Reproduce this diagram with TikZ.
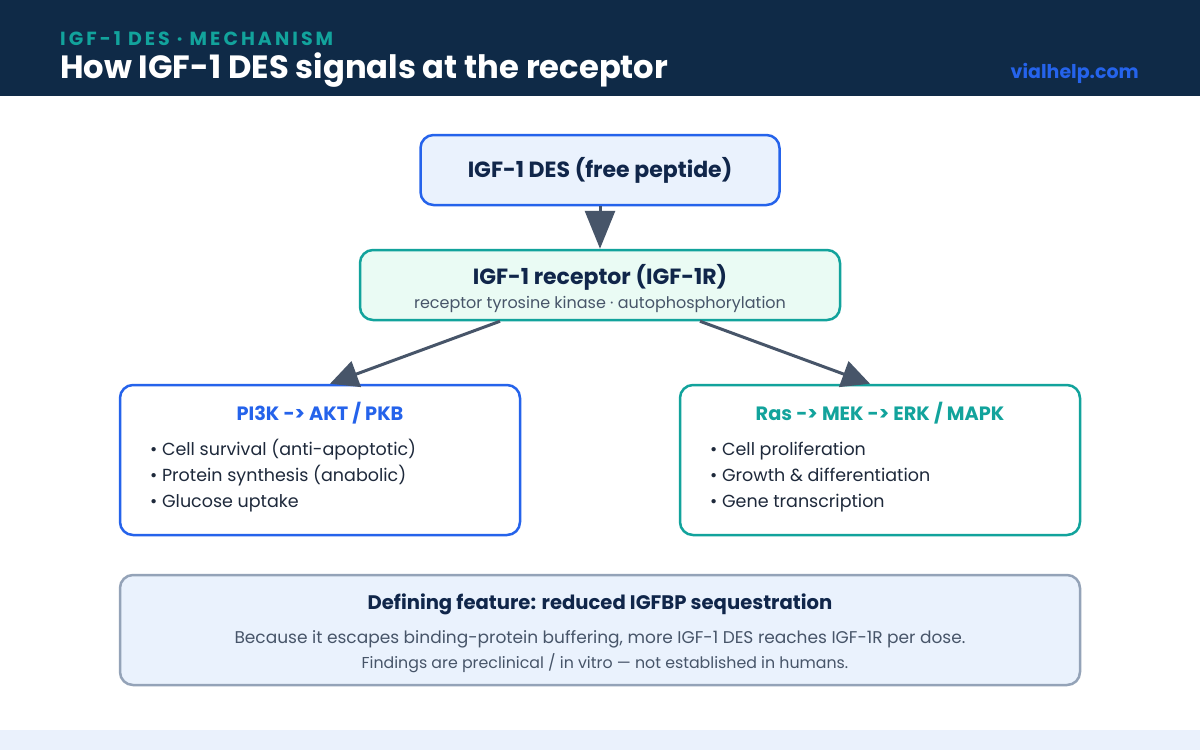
\documentclass[tikz,border=0pt]{standalone}
\usepackage{fontspec}
\setmainfont{Poppins}
\newfontfamily\kickerfont{Poppins}[LetterSpace=16]
\usetikzlibrary{arrows.meta, positioning}

\definecolor{headnavy}{HTML}{0F2A47}
\definecolor{inknavy}{HTML}{10264A}
\definecolor{inkbody}{HTML}{1E293B}
\definecolor{inkgray}{HTML}{475569}
\definecolor{brandblue}{HTML}{2563EB}
\definecolor{brandteal}{HTML}{12A39C}
\definecolor{paleblue}{HTML}{EAF2FD}
\definecolor{palemint}{HTML}{EAFBF4}
\definecolor{edgegray}{HTML}{94A3B8}
\definecolor{stripblue}{HTML}{EAF1FC}

\tikzset{
    panel/.style={line width=2.5pt, rounded corners=13pt, inner sep=0pt},
    flow/.style={draw=inkgray, line width=3pt},
    bigtip/.style={-{Triangle[length=38pt, width=30pt]}},
    sidetip/.style={-{Triangle[length=28pt, width=27pt]}},
    boxhead/.style={font=\fontsize{22}{26}\selectfont\bfseries, text=inknavy},
    item/.style={anchor=base west, inner sep=0pt, font=\fontsize{17.5}{22}\selectfont, text=inkbody},
}

\begin{document}
\begin{tikzpicture}[x=1pt, y=-1pt]
\fill[white] (0,0) rectangle (1200,750);

% banner
\fill[headnavy] (0,0) rectangle (1200,96);
\fill[stripblue] (0,730) rectangle (1200,750);
\node[anchor=base west, inner sep=0pt, text=brandteal, font=\kickerfont\fontsize{19}{22}\selectfont\bfseries] (kicker) at (60,45) {IGF-1 DES · MECHANISM};
\node[anchor=base west, inner sep=0pt, text=white, font=\fontsize{32.2}{36}\selectfont\bfseries] (headline) at (60,78) {How IGF-1 DES signals at the receptor};
\node[anchor=base east, inner sep=0pt, text=brandblue, font=\fontsize{19}{22}\selectfont\bfseries] (site) at (1139,78) {vialhelp.com};

% ligand and receptor
\node[panel, draw=brandblue, fill=paleblue, minimum width=359pt, minimum height=70pt, boxhead] (peptide) at (600,170) {IGF-1 DES (free peptide)};
\node[panel, draw=brandteal, fill=palemint, minimum width=480pt, minimum height=70pt] (receptor) at (600,285) {};
\node[boxhead] (rectitle) at (600,277) {IGF-1 receptor (IGF-1R)};
\node[text=inkgray, font=\fontsize{16}{19}\selectfont] (recsub) at (600,304) {receptor tyrosine kinase · autophosphorylation};

% two pathways
\node[panel, draw=brandblue, fill=white, minimum width=400pt, minimum height=150pt] (pika) at (320,460) {};
\node[boxhead, text=brandblue, font=\fontsize{19.3}{24}\selectfont\bfseries] (pikatitle) at (320,413) {PI3K -> AKT / PKB};
\node[item] (pika1) at (150,455) {•~Cell survival (anti-apoptotic)};
\node[item] (pika2) at (150,481) {•~Protein synthesis (anabolic)};
\node[item] (pika3) at (150,507) {•~Glucose uptake};

\node[panel, draw=brandteal, fill=white, minimum width=400pt, minimum height=150pt] (mapk) at (880,460) {};
\node[boxhead, text=brandteal, font=\fontsize{19.3}{24}\selectfont\bfseries] (mapktitle) at (880,413) {Ras -> MEK -> ERK / MAPK};
\node[item] (mapk1) at (710,455) {•~Cell proliferation};
\node[item] (mapk2) at (710,481) {•~Growth \& differentiation};
\node[item] (mapk3) at (710,507) {•~Gene transcription};

\draw[flow, bigtip] (peptide.south) -- (receptor.north);
\draw[flow, sidetip] ([xshift=-100pt]receptor.south) -- ([xshift=10pt]pika.north);
\draw[flow, sidetip] ([xshift=100pt]receptor.south) -- ([xshift=-10pt]mapk.north);

% note
\node[panel, draw=edgegray, fill=paleblue, minimum width=960pt, minimum height=110pt] (note) at (600,630) {};
\node[text=inknavy, font=\fontsize{19.6}{22}\selectfont\bfseries] (notetitle) at (600,604) {Defining feature: reduced IGFBP sequestration};
\node[text=inkgray, font=\fontsize{17}{20}\selectfont] (noteline) at (600,639) {Because it escapes binding-protein buffering, more IGF-1 DES reaches IGF-1R per dose.};
\node[text=inkgray, font=\fontsize{15.8}{19}\selectfont] (notefine) at (605,663) {Findings are preclinical / in vitro — not established in humans.};
\end{tikzpicture}
\end{document}
